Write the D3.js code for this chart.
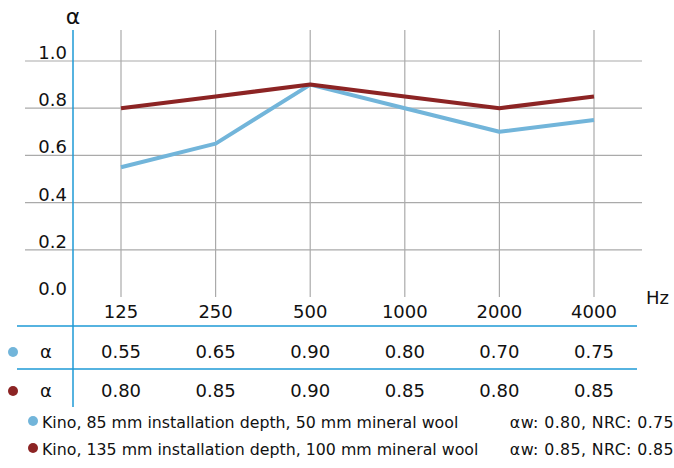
<!DOCTYPE html>
<html>
<head>
<meta charset="utf-8">
<script src="https://cdn.jsdelivr.net/npm/d3@7"></script>
<style>
  body { margin: 0; background: #fff; }
  text { font-family: "DejaVu Sans", sans-serif; fill: #111; }
</style>
</head>
<body>
<script>
var freqs = ["125", "250", "500", "1000", "2000", "4000"];
var yTicks = [0, 0.2, 0.4, 0.6, 0.8, 1.0];
var series85 = [0.55, 0.65, 0.90, 0.80, 0.70, 0.75];
var series135 = [0.80, 0.85, 0.90, 0.85, 0.80, 0.85];
var legendLabels = ["Kino, 85 mm installation depth, 50 mm mineral wool",
                    "Kino, 135 mm installation depth, 100 mm mineral wool"];
var ratings = ["\u03b1w: 0.80, NRC: 0.75", "\u03b1w: 0.85, NRC: 0.85"];
var colors = ["#72b5da", "#8c2424"];

var svg = d3.select("body").append("svg")
  .attr("width", 674)
  .attr("height", 468);

var x = d3.scalePoint().domain(freqs).range([121, 594]);
var y = d3.scaleLinear().domain([0, 1]).range([297, 61]);

// grid
svg.selectAll("line.hgrid")
  .data(yTicks.filter(function(d) { return d > 0; }))
  .enter().append("line")
  .attr("x1", 25).attr("x2", 642)
  .attr("y1", function(d) { return y(d); })
  .attr("y2", function(d) { return y(d); })
  .attr("stroke", "#aaaaaa").attr("stroke-width", 1.2);

svg.selectAll("line.vgrid")
  .data(freqs)
  .enter().append("line")
  .attr("x1", function(d) { return x(d); })
  .attr("x2", function(d) { return x(d); })
  .attr("y1", 30).attr("y2", 297)
  .attr("stroke", "#aaaaaa").attr("stroke-width", 1.2);

// y labels
svg.selectAll("text.ytick")
  .data(yTicks)
  .enter().append("text")
  .attr("x", 67)
  .attr("y", function(d) { return y(d) - 2; })
  .attr("text-anchor", "end")
  .attr("font-size", 18)
  .text(function(d) { return d.toFixed(1); });

// lines
var line = d3.line()
  .x(function(d, i) { return x(freqs[i]); })
  .y(function(d) { return y(d); });

[series85, series135].forEach(function(s, i) {
  svg.append("path")
    .datum(s)
    .attr("d", line)
    .attr("fill", "none")
    .attr("stroke", colors[i])
    .attr("stroke-width", 4)
    .attr("stroke-linejoin", "round");
});

// axis lines (blue)
svg.append("line")
  .attr("x1", 73).attr("x2", 73).attr("y1", 30).attr("y2", 407)
  .attr("stroke", "#1e9ad6").attr("stroke-width", 1.5);
[326, 369].forEach(function(yy) {
  svg.append("line")
    .attr("x1", 17).attr("x2", 637).attr("y1", yy).attr("y2", yy)
    .attr("stroke", "#1e9ad6").attr("stroke-width", 1.5);
});

svg.append("text")
  .attr("x", 73).attr("y", 24)
  .attr("text-anchor", "middle")
  .attr("font-size", 22)
  .text("\u03b1");

svg.append("text")
  .attr("x", 669).attr("y", 304)
  .attr("text-anchor", "end")
  .attr("font-size", 18)
  .text("Hz");

// x tick labels
svg.selectAll("text.xtick")
  .data(freqs)
  .enter().append("text")
  .attr("x", function(d) { return x(d); })
  .attr("y", 318)
  .attr("text-anchor", "middle")
  .attr("font-size", 18)
  .text(function(d) { return d; });

// table rows
var rowY = [358, 397];
[series85, series135].forEach(function(s, i) {
  svg.append("circle")
    .attr("cx", 13).attr("cy", rowY[i] - 6).attr("r", 5)
    .attr("fill", colors[i]);
  svg.append("text")
    .attr("x", 46).attr("y", rowY[i])
    .attr("text-anchor", "middle")
    .attr("font-size", 18)
    .text("\u03b1");
  svg.selectAll("text.row" + i)
    .data(s)
    .enter().append("text")
    .attr("x", function(d, j) { return x(freqs[j]); })
    .attr("y", rowY[i])
    .attr("text-anchor", "middle")
    .attr("font-size", 18)
    .text(function(d) { return d.toFixed(2); });
});

// legend
var legY = [428, 455];
legendLabels.forEach(function(label, i) {
  svg.append("circle")
    .attr("cx", 33).attr("cy", legY[i] - 7).attr("r", 5)
    .attr("fill", colors[i]);
  svg.append("text")
    .attr("x", 42).attr("y", legY[i])
    .attr("font-size", 15.8)
    .text(label);
  svg.append("text")
    .attr("x", 674).attr("y", legY[i])
    .attr("text-anchor", "end")
    .attr("font-size", 15.8)
    .attr("letter-spacing", 0.4)
    .text(ratings[i]);
});
</script>
</body>
</html>
